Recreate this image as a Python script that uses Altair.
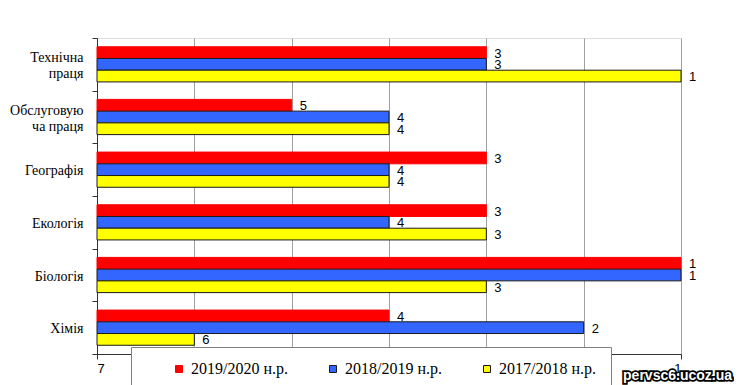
import altair as alt
import pandas as pd

categories = ["Технічна праця", "Обслуговуюча праця", "Географія", "Екологія", "Біологія", "Хімія"]
series = ["2019/2020 н.р.", "2018/2019 н.р.", "2017/2018 н.р."]
v2019 = [3, 5, 3, 3, 1, 4]
v2018 = [3, 4, 4, 4, 1, 2]
v2017 = [1, 4, 4, 3, 3, 6]
x_ticks = [7, 6, 5, 4, 3, 2, 1]
fills = ["#ff0000", "#3366ff", "#ffff00"]
strokes = ["#ff0000", "#1a1a1a", "#1a1a1a"]
watermark = ["pervsc6.ucoz.ua"]

SERIF = "'Liberation Serif', 'Times New Roman', 'DejaVu Serif', serif"
SANS = "'Liberation Sans', Arial, sans-serif"

rows = []
for s, vals in zip(series, [v2019, v2018, v2017]):
    for c, v in zip(categories, vals):
        rows.append({"category": c, "series": s, "value": v})
df = pd.DataFrame(rows)

leg = alt.Legend(
    orient="none", legendX=34, legendY=309, direction="horizontal",
    title=" ", titleOrient="left", titleFontSize=8, titlePadding=26,
    fillColor="white", strokeColor="#808080", padding=14,
    symbolType="square", symbolSize=49, symbolStrokeWidth=1,
    labelFont=SERIF, labelFontSize=16, labelColor="black",
    labelOffset=4, columnPadding=36, labelLimit=300,
)

two_line = "datum.value == 'Технічна праця' || datum.value == 'Обслуговуюча праця'"

y_enc = alt.Y(
    "category:N", sort=categories, title=None,
    scale=alt.Scale(paddingInner=0, paddingOuter=0),
    axis=alt.Axis(
        labelFont=SERIF, labelFontSize=14, labelColor="black",
        labelPadding=9, tickSize=5, tickBand="extent", domainColor="#333",
        tickColor="#333", grid=False, labelLineHeight=16,
        labelOffset={"condition": {"test": two_line, "value": -7}, "value": 1},
        labelExpr="datum.label == 'Технічна праця' ? ['Технічна', 'праця'] : datum.label == 'Обслуговуюча праця' ? ['Обслуговую', 'ча праця'] : datum.label",
    ),
)
yoff = alt.YOffset("series:N", sort=series, scale=alt.Scale(paddingInner=0, paddingOuter=0.745))

x_enc = alt.X(
    "value:Q", title=None,
    scale=alt.Scale(domain=[1, 7], reverse=True, nice=False, zero=False),
    axis=alt.Axis(
        values=x_ticks, labelFont=SANS, labelFontSize=13, labelColor="black",
        tickSize=5, labelPadding=3, domainColor="#333", tickColor="#333",
        gridColor="#a0a0a0", gridWidth=1, format="d",
    ),
)

bars = alt.Chart(df).mark_bar(strokeWidth=1).encode(
    x=x_enc,
    x2=alt.datum(7),
    y=y_enc,
    yOffset=yoff,
    fill=alt.Fill("series:N", sort=series, scale=alt.Scale(domain=series, range=fills), legend=leg),
    stroke=alt.Stroke("series:N", sort=series, scale=alt.Scale(domain=series, range=strokes), legend=leg),
)

labels = alt.Chart(df).mark_text(
    align="left", baseline="middle", dx=8, dy=1, font=SANS, fontSize=13, color="black"
).encode(
    x="value:Q",
    y=alt.Y("category:N", sort=categories),
    yOffset=yoff,
    text="value:Q",
)

wm_df = pd.DataFrame({"t": watermark})
wm_back = alt.Chart(wm_df).mark_text(
    align="right", baseline="middle", font=SANS, fontWeight="bold", fontSize=14,
    fill="black", stroke="black", strokeWidth=3.5,
).encode(x=alt.value(635), y=alt.value(338), text="t:N")
wm_front = alt.Chart(wm_df).mark_text(
    align="right", baseline="middle", font=SANS, fontWeight="bold", fontSize=14,
    fill="white",
).encode(x=alt.value(635), y=alt.value(338), text="t:N")

chart = alt.layer(bars, labels, wm_back, wm_front).properties(
    width=584, height=316,
    autosize=alt.AutoSizeParams(type="none"),
    padding={"left": 89, "top": 30, "right": 53, "bottom": 45},
).configure_view(stroke="#a0a0a0", strokeWidth=1).configure(background="white")

chart.save("out.html", embed_options={"renderer": "svg", "actions": False})
